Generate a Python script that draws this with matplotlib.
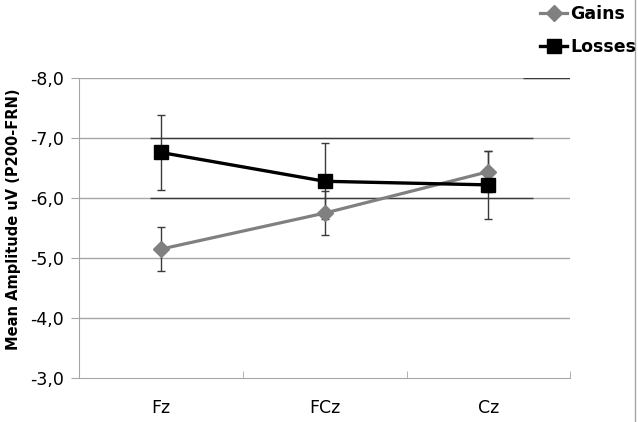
import numpy as np
import matplotlib.pyplot as plt
from matplotlib.lines import Line2D

# data
sites = ["Fz", "FCz", "Cz"]
gains = [-5.15, -5.75, -6.44]
gains_err = [0.37, 0.37, 0.34]
losses = [-6.76, -6.28, -6.22]
losses_err = [0.62, 0.63, 0.57]
yticks = [-3, -4, -5, -6, -7, -8]

# stray dark rules seen in the picture: (y, x from, x to)
stray_rules = [(-7, -0.07, 2.27), (-6, -0.07, 2.27), (-8, 2.21, 2.5)]

fig = plt.figure(figsize=(6.38, 4.22), dpi=100)
ax = fig.add_axes([0.124, 0.104, 0.770, 0.711])

x = np.arange(len(sites))

grid_col = "#a6a6a6"
for t in yticks[1:]:
    ax.axhline(t, color=grid_col, lw=1.0, zorder=1)
for y, x0, x1 in stray_rules:
    ax.hlines(y, x0, x1, color="#3a3a3a", lw=1.0, zorder=1.5)

ax.errorbar(x, gains, yerr=gains_err, fmt="none", ecolor="#3a3a3a",
            elinewidth=1.0, capsize=2.6, capthick=1.0, zorder=2)
ax.errorbar(x, losses, yerr=losses_err, fmt="none", ecolor="#3a3a3a",
            elinewidth=1.0, capsize=2.6, capthick=1.0, zorder=2)

ax.plot(x, gains, color="#808080", lw=2.3, marker="D", ms=8,
        mfc="#808080", mec="#808080", label="Gains", zorder=3)
ax.plot(x, losses, color="black", lw=2.4, marker="s", ms=10,
        mfc="black", mec="black", label="Losses", zorder=4)

ax.set_xlim(-0.5, len(sites) - 0.5)
ax.set_ylim(-3, -8)
ax.set_yticks(yticks)
ax.set_yticklabels([f"{t:.1f}".replace(".", ",") for t in yticks], fontsize=12.5)
ax.set_xticks(x)
ax.set_xticklabels(sites, fontsize=12.5)
ax.set_xticks(np.arange(-0.5, len(sites)), minor=True)
ax.tick_params(axis="x", which="major", length=0, pad=15)
ax.tick_params(axis="x", which="minor", length=5, color=grid_col, direction="in")
ax.tick_params(axis="y", length=6, color=grid_col, pad=5)

for s in ["top", "right"]:
    ax.spines[s].set_visible(False)
ax.spines["left"].set_color(grid_col)
ax.spines["bottom"].set_color(grid_col)

ax.set_ylabel("Mean Amplitude uV (P200-FRN)", fontsize=10.5, fontweight="bold")
ax.yaxis.set_label_coords(-0.118, 0.53)

leg = fig.legend(loc="upper left", bbox_to_anchor=(0.835, 1.005), frameon=False,
                 prop={"weight": "bold", "size": 12.5}, handlelength=1.6,
                 handletextpad=0.15, labelspacing=0.9, borderaxespad=0)

fig.add_artist(Line2D([0.996, 0.996], [0, 1], transform=fig.transFigure,
                      color="#a6a6a6", lw=1))

fig.savefig("out.png", dpi=100)
